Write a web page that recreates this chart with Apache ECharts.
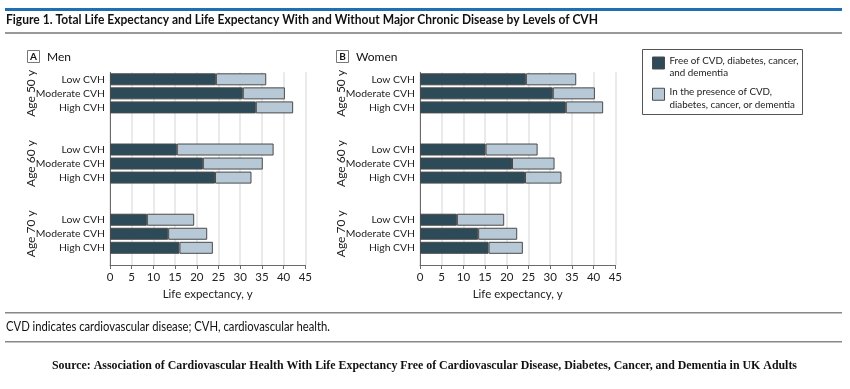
<!DOCTYPE html>
<html>
<head>
<meta charset="utf-8">
<script src="https://cdn.jsdelivr.net/npm/echarts@6/dist/echarts.min.js"></script>
<style>
html,body{margin:0;padding:0;background:#fff;}
#chart{width:850px;height:389px;}
</style>
</head>
<body>
<div id="chart"></div>
<script>
// ---- data ----
const cvhLevels = ['Low CVH', 'Moderate CVH', 'High CVH'];
const ageGroups = ['Age 50 y', 'Age 60 y', 'Age 70 y'];
// life expectancy free of disease (years), order: age50 [low,mod,high], age60 [...], age70 [...]
const menFree   = [24.4, 30.6, 33.6, 15.4, 21.4, 24.2, 8.5, 13.4, 16.0];
const menTotal  = [36.0, 40.3, 42.2, 37.7, 35.2, 32.6, 19.4, 22.4, 23.7];
const womenFree  = [24.4, 30.6, 33.6, 15.1, 21.2, 24.2, 8.5, 13.4, 15.8];
const womenTotal = [36.0, 40.3, 42.2, 27.1, 31.0, 32.6, 19.4, 22.4, 23.7];
const xTicks = [0, 5, 10, 15, 20, 25, 30, 35, 40, 45];
const seriesNames = ['Free of CVD, diabetes, cancer, and dementia', 'In the presence of CVD, diabetes, cancer, or dementia'];
const legendLines = [['Free of CVD, diabetes, cancer,', 'and dementia'], ['In the presence of CVD,', 'diabetes, cancer, or dementia']];

// ---- build slot categories (3 rows + 2 blank rows between age groups) ----
const slots = [];
const slotIndex = [];
ageGroups.forEach((age, g) => {
  cvhLevels.forEach((lvl) => { slotIndex.push(slots.length); slots.push(age + '|' + lvl); });
  if (g < ageGroups.length - 1) { slots.push(age + '|gapA'); slots.push(age + '|gapB'); }
});
function slotData(values) {
  const arr = slots.map(() => null);
  values.forEach((v, i) => { arr[slotIndex[i]] = v; });
  return arr;
}
const menPres = menTotal.map((t, i) => +(t - menFree[i]).toFixed(1));
const womenPres = womenTotal.map((t, i) => +(t - womenFree[i]).toFixed(1));

const FONT = 'Lato, "Liberation Sans", sans-serif';
const SERIF = '"Liberation Serif", "DejaVu Serif", serif';
const DARK = '#2d4a59';
const LIGHT = '#b7c9d6';
const BORDER = '#4a4a4a';
const AXIS = '#6a6a6a';

// measure helper to fit texts to the reference widths
const mctx = document.createElement('canvas').getContext('2d');
function fitScale(text, font, target) { mctx.font = font; return target / mctx.measureText(text).width; }

const plotW = 195.3;
const barTop = 72.3;
const barH = 13 * 14.04;
const frameH = 265 - barTop;
const lefts = [110, 420];

const grids = [], xAxes = [], yAxes = [], series = [];
const panelData = [[menFree, menPres], [womenFree, womenPres]];
lefts.forEach((L, p) => {
  grids.push({ left: L, top: barTop, width: plotW, height: barH });
  grids.push({ left: L, top: barTop, width: plotW, height: frameH });
  const gBars = p * 2, gFrame = p * 2 + 1;
  xAxes.push({ gridIndex: gBars, type: 'value', min: 0, max: 45, interval: 5, show: false });
  xAxes.push({
    gridIndex: gFrame, type: 'value', min: 0, max: 45, interval: 5,
    axisLine: { show: true, lineStyle: { color: AXIS, width: 1 } },
    axisTick: { show: true, length: 4, lineStyle: { color: AXIS } },
    axisLabel: { color: '#222', fontSize: 11.5, fontFamily: FONT, margin: 6,
      formatter: v => xTicks.includes(v) ? String(v) : '' },
    splitLine: { show: true, lineStyle: { color: '#e3e3e3', width: 1.5 } },
    name: 'Life expectancy, y', nameLocation: 'middle', nameGap: 23,
    nameTextStyle: { color: '#222', fontSize: 11.5, fontFamily: FONT }
  });
  const ycat = yAxes.length;
  yAxes.push({
    gridIndex: gBars, type: 'category', data: slots, inverse: true,
    axisLine: { show: false }, axisTick: { show: false },
    axisLabel: { interval: 0, color: '#222', fontSize: 10.4, fontFamily: FONT, margin: 5,
      formatter: v => { const s = v.split('|')[1]; return s.startsWith('gap') ? '' : s; } }
  });
  yAxes.push({
    gridIndex: gBars, type: 'category', data: slots, inverse: true, position: 'left',
    axisLine: { show: false }, axisTick: { show: false },
    axisLabel: { interval: 0, rotate: 90, color: '#222', fontSize: 12, fontFamily: FONT, margin: 73,
      formatter: v => { const [age, lvl] = v.split('|'); return lvl === 'Moderate CVH' ? age : ''; } }
  });
  yAxes.push({
    gridIndex: gFrame, type: 'value', min: 0, max: 1,
    axisLine: { show: true, lineStyle: { color: AXIS, width: 1 } },
    axisTick: { show: false }, axisLabel: { show: false }, splitLine: { show: false }
  });
  const xi = p * 2;
  [DARK, LIGHT].forEach((c, k) => {
    series.push({
      name: seriesNames[k], type: 'bar', stack: 'p' + p,
      xAxisIndex: xi, yAxisIndex: ycat,
      barWidth: 12,
      data: slotData(panelData[p][k]),
      itemStyle: { color: c, borderColor: BORDER, borderWidth: 1 },
      emphasis: { disabled: true }, silent: true
    });
  });
});

const titleText = 'Figure 1. Total Life Expectancy and Life Expectancy With and Without Major Chronic Disease by Levels of CVH';
const titleFont = 'bold 14px ' + FONT;
const noteText = 'CVD indicates cardiovascular disease; CVH, cardiovascular health.';
const noteFont = '12.5px ' + FONT;
const srcText = 'Source: Association of Cardiovascular Health With Life Expectancy Free of Cardiovascular Disease, Diabetes, Cancer, and Dementia in UK Adults';
const srcFont = 'bold 12.5px ' + SERIF;

const chart = echarts.init(document.getElementById('chart'), null, { renderer: 'canvas' });
chart.setOption({
  animation: false,
  backgroundColor: '#fff',
  legend: {
    orient: 'vertical', left: 652, top: 50, padding: 0, itemGap: 3,
    itemWidth: 12, itemHeight: 12, icon: 'rect', selectedMode: false,
    data: seriesNames,
    formatter: n => { const l = legendLines[seriesNames.indexOf(n)]; return '{s|}\n{t|' + l[0] + '}\n{t|' + l[1] + '}'; },
    itemStyle: { borderColor: BORDER, borderWidth: 1 },
    textStyle: { fontFamily: FONT, fontSize: 9.8, color: '#222',
      rich: { s: { lineHeight: 8, fontSize: 1 }, t: { fontFamily: FONT, fontSize: 9.8, color: '#222', lineHeight: 12.5 } } }
  },
  grid: grids, xAxis: xAxes, yAxis: yAxes, series: series,
  graphic: [
    { type: 'rect', shape: { x: 5, y: 8, width: 837, height: 3 }, style: { fill: '#1f6fb5' } },
    { type: 'rect', shape: { x: 5, y: 32, width: 837, height: 2 }, style: { fill: '#999' } },
    { type: 'rect', shape: { x: 5, y: 312, width: 837, height: 1.5 }, style: { fill: '#888' } },
    { type: 'rect', shape: { x: 5, y: 341, width: 837, height: 1.5 }, style: { fill: '#888' } },
    { type: 'text', x: 6, y: 19, scaleX: fitScale(titleText, titleFont, 592), style: { text: titleText, font: titleFont, fill: '#111', verticalAlign: 'middle' } },
    { type: 'rect', shape: { x: 642.5, y: 49.5, width: 160, height: 65 }, style: { fill: 'none', stroke: '#555', lineWidth: 1 } },
    // panel labels
    { type: 'rect', shape: { x: 27.5, y: 50.5, width: 12, height: 12 }, style: { fill: '#fff', stroke: '#777', lineWidth: 1 } },
    { type: 'text', x: 33.5, y: 57, style: { text: 'A', font: 'bold 10px ' + FONT, fill: '#111', align: 'center', verticalAlign: 'middle' } },
    { type: 'text', x: 47, y: 57, style: { text: 'Men', font: '12px ' + FONT, fill: '#111', verticalAlign: 'middle' } },
    { type: 'rect', shape: { x: 336.5, y: 50.5, width: 12, height: 12 }, style: { fill: '#fff', stroke: '#777', lineWidth: 1 } },
    { type: 'text', x: 342.5, y: 57, style: { text: 'B', font: 'bold 10px ' + FONT, fill: '#111', align: 'center', verticalAlign: 'middle' } },
    { type: 'text', x: 356, y: 57, style: { text: 'Women', font: '12px ' + FONT, fill: '#111', verticalAlign: 'middle' } },
    { type: 'text', x: 6, y: 327, scaleX: fitScale(noteText, noteFont, 324), style: { text: noteText, font: noteFont, fill: '#111', verticalAlign: 'middle' } },
    { type: 'text', x: 424.5, y: 366, scaleX: fitScale(srcText, srcFont, 745), style: { text: srcText, font: srcFont, fill: '#111', align: 'center', verticalAlign: 'middle' } }
  ]
});
</script>
</body>
</html>
